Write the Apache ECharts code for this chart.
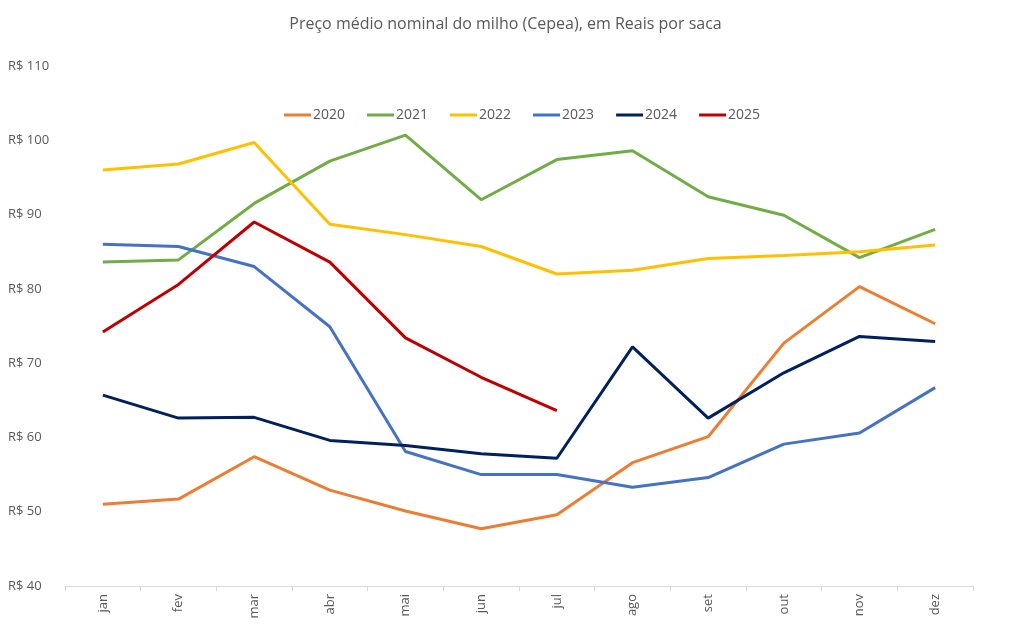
<!DOCTYPE html>
<html>
<head>
<meta charset="utf-8">
<script src="https://cdn.jsdelivr.net/npm/echarts@6/dist/echarts.min.js"></script>
<style>html,body{margin:0;padding:0;background:#fff}#c{width:1011px;height:629px}</style>
</head>
<body>
<div id="c"></div>
<script>
const months = ['jan','fev','mar','abr','mai','jun','jul','ago','set','out','nov','dez'];
const s2020 = [51.0, 51.7, 57.4, 52.9, 50.1, 47.7, 49.6, 56.6, 60.1, 72.7, 80.3, 75.3];
const s2021 = [83.6, 83.9, 91.5, 97.2, 100.7, 92.0, 97.4, 98.6, 92.4, 89.9, 84.2, 88.0];
const s2022 = [96.0, 96.8, 99.7, 88.7, 87.3, 85.7, 82.0, 82.5, 84.1, 84.5, 85.0, 85.9];
const s2023 = [86.0, 85.7, 83.0, 74.9, 58.1, 55.0, 55.0, 53.3, 54.6, 59.1, 60.6, 66.7];
const s2024 = [65.7, 62.6, 62.7, 59.6, 58.9, 57.8, 57.2, 72.2, 62.6, 68.7, 73.6, 72.9];
const s2025 = [74.2, 80.6, 89.0, 83.6, 73.4, 68.1, 63.6];
const seriesNames = ['2020','2021','2022','2023','2024','2025'];
const seriesData = [s2020, s2021, s2022, s2023, s2024, s2025];
const colors = ['#ED7D31','#70AD47','#FFC000','#4472C4','#002060','#C00000'];
const yTicks = { min: 40, max: 110, interval: 10 };

const chart = echarts.init(document.getElementById('c'));
const font = '"Open Sans", "Noto Sans", sans-serif';
chart.setOption({
  animation: false,
  backgroundColor: '#fff',
  title: {
    text: 'Preço médio nominal do milho (Cepea), em Reais por saca',
    left: 'center', top: 11,
    textStyle: { fontFamily: font, fontSize: 16, fontWeight: 'normal', color: '#595959' }
  },
  legend: {
    top: 103, left: 279,
    icon: 'rect', itemWidth: 27, itemHeight: 3, itemGap: 22,
    textStyle: { fontFamily: font, fontSize: 14, color: '#595959', padding: [0,0,0,-3] },
    data: seriesNames
  },
  grid: { left: 65, right: 38, top: 66, bottom: 43, containLabel: false },
  xAxis: {
    type: 'category', data: months, boundaryGap: true,
    axisLine: { lineStyle: { color: '#d9d9d9', width: 1 } },
    axisTick: { show: true, length: 5, lineStyle: { color: '#d9d9d9' } },
    axisLabel: { rotate: 90, margin: 8, fontFamily: font, fontSize: 13, color: '#595959' },
    splitLine: { show: false }
  },
  yAxis: {
    type: 'value', min: yTicks.min, max: yTicks.max, interval: yTicks.interval,
    axisLine: { show: false }, axisTick: { show: false },
    splitLine: { show: false },
    axisLabel: {
      align: 'left', margin: 57, fontFamily: font, fontSize: 13, color: '#595959',
      formatter: v => 'R$ ' + v
    }
  },
  series: seriesNames.map((n, i) => ({
    name: n, type: 'line', data: seriesData[i],
    showSymbol: false, symbol: 'none',
    lineStyle: { color: colors[i], width: 3 },
    itemStyle: { color: colors[i] }
  }))
});
</script>
</body>
</html>
